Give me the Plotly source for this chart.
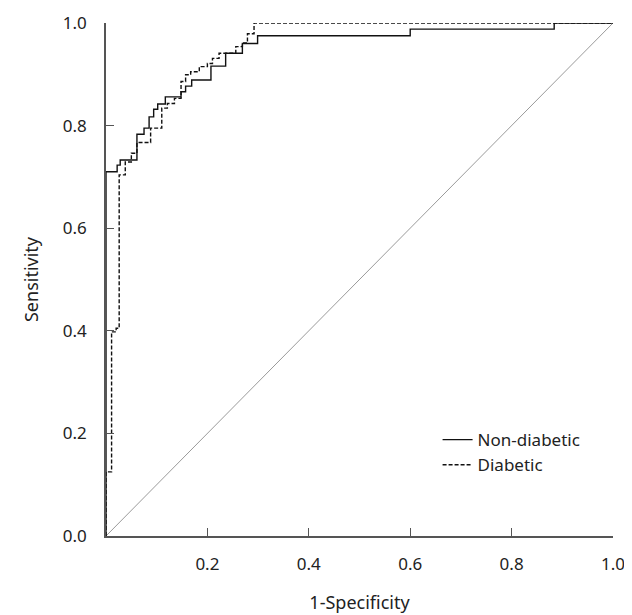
import plotly.graph_objects as go

# Non-diabetic ROC (step corners: x where step occurs, new sensitivity)
nd_fpr = [0, 0, 0.022, 0.028, 0.061, 0.075, 0.085, 0.094, 0.102, 0.117, 0.148, 0.157, 0.169, 0.207, 0.236, 0.269, 0.299, 0.600, 0.884, 1.0]
nd_tpr = [0, 0.710, 0.723, 0.733, 0.783, 0.795, 0.817, 0.832, 0.842, 0.856, 0.866, 0.877, 0.889, 0.916, 0.941, 0.960, 0.975, 0.988, 1.0, 1.0]

# Diabetic ROC
d_fpr = [0, 0, 0.011, 0.020, 0.026, 0.038, 0.050, 0.061, 0.088, 0.110, 0.121, 0.135, 0.148, 0.157, 0.167, 0.184, 0.200, 0.210, 0.223, 0.256, 0.269, 0.279, 0.292, 1.0]
d_tpr = [0, 0.125, 0.398, 0.405, 0.704, 0.729, 0.746, 0.767, 0.795, 0.834, 0.843, 0.853, 0.886, 0.899, 0.905, 0.915, 0.921, 0.931, 0.941, 0.954, 0.961, 0.979, 1.0, 1.0]

ref_x = [0, 1]
ref_y = [0, 1]

x_ticks = [0.2, 0.4, 0.6, 0.8, 1.0]
x_labels = ["0.2", "0.4", "0.6", "0.8", "1.0"]
y_ticks = [0.0, 0.2, 0.4, 0.6, 0.8, 1.0]
y_labels = ["0.0", "0.2", "0.4", "0.6", "0.8", "1.0"]

fig = go.Figure()
fig.add_trace(go.Scatter(x=ref_x, y=ref_y, mode="lines",
                         line=dict(color="#9a9a9a", width=1), showlegend=False, hoverinfo="skip"))
fig.add_trace(go.Scatter(x=nd_fpr, y=nd_tpr, mode="lines", name="Non-diabetic",
                         line=dict(color="#111111", width=1.4, shape="hv")))
fig.add_trace(go.Scatter(x=d_fpr, y=d_tpr, mode="lines", name="Diabetic",
                         line=dict(color="#111111", width=1.4, shape="hv", dash="4px,2px")))

font = "Noto Sans, DejaVu Sans, sans-serif"
fig.update_layout(
    width=624, height=607,
    margin=dict(l=98, r=19, t=15, b=79, autoexpand=False),
    paper_bgcolor="white", plot_bgcolor="white",
    font=dict(family=font, size=16, color="#222222"),
    legend=dict(x=0.654, y=0.222, xanchor="left", yanchor="top",
                bgcolor="rgba(0,0,0,0)", font=dict(size=17),
                itemwidth=30, tracegroupgap=0),
    xaxis=dict(range=[0, 1], tickvals=x_ticks, ticktext=x_labels,
               showgrid=False, zeroline=False, showline=True, automargin=False,
               linecolor="#555555", linewidth=1.5,
               ticks="inside", ticklen=8, tickcolor="#555555", tickwidth=1.2,
               ticklabelstandoff=12, tickfont=dict(size=17),
               title=dict(text="1-Specificity", font=dict(size=18), standoff=22)),
    yaxis=dict(range=[0, 1], tickvals=y_ticks, ticktext=y_labels,
               showgrid=False, zeroline=False, showline=True, automargin=False,
               linecolor="#555555", linewidth=1.5,
               ticks="inside", ticklen=8, tickcolor="#555555", tickwidth=1.2,
               ticklabelstandoff=14, tickfont=dict(size=17),
               title=dict(text="Sensitivity", font=dict(size=18), standoff=20)),
)

fig.write_html("out.html")
